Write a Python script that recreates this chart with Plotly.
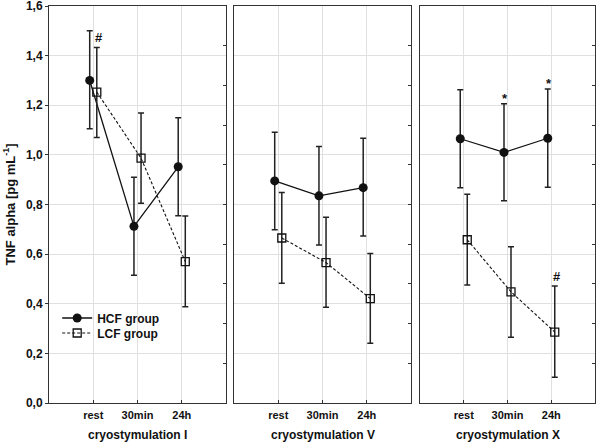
import plotly.graph_objects as go

categories = ["rest", "30min", "24h"]
panel_titles = ["cryostymulation I", "cryostymulation V", "cryostymulation X"]

hcf_mean = [[1.300, 0.712, 0.952], [0.895, 0.835, 0.868], [1.065, 1.010, 1.067]]
hcf_upper = [[1.500, 0.910, 1.150], [1.091, 1.034, 1.067], [1.262, 1.206, 1.265]]
hcf_lower = [[1.105, 0.515, 0.755], [0.698, 0.637, 0.673], [0.868, 0.815, 0.870]]

lcf_mean = [[1.253, 0.987, 0.570], [0.665, 0.566, 0.421], [0.658, 0.448, 0.286]]
lcf_upper = [[1.433, 1.169, 0.754], [0.848, 0.749, 0.603], [0.841, 0.630, 0.472]]
lcf_lower = [[1.070, 0.805, 0.388], [0.483, 0.386, 0.241], [0.476, 0.265, 0.104]]

y_ticks = [0, 0.2, 0.4, 0.6, 0.8, 1.0, 1.2, 1.4, 1.6]

# significance marks: (panel, group, category index, text)
sig_marks = [(0, "LCF", 0, "#"), (2, "HCF", 1, "*"), (2, "HCF", 2, "*"), (2, "LCF", 2, "#")]

FONT = "Liberation Sans, Arial, sans-serif"
W, H = 600, 444
ML, MR, MT, MB = 49, 5, 6, 41
pw = W - ML - MR
ph = H - MT - MB
panel_px = [(49, 226), (234, 411), (420, 595)]
domains = [((a - ML) / pw, (b - ML) / pw) for a, b in panel_px]

OFF_H, OFF_L = -0.08, 0.08

fig = go.Figure()
for p in range(3):
    xa = "x" if p == 0 else f"x{p+1}"
    ya = "y" if p == 0 else f"y{p+1}"
    xs_h = [i + 1 + OFF_H for i in range(len(categories))]
    xs_l = [i + 1 + OFF_L for i in range(len(categories))]
    fig.add_trace(go.Scatter(
        x=xs_h, y=hcf_mean[p], xaxis=xa, yaxis=ya,
        mode="lines+markers", name="HCF group", showlegend=(p == 0), legend="legend",
        line=dict(color="#111", width=1.3),
        marker=dict(symbol="circle", size=9, color="#111"),
        error_y=dict(type="data", symmetric=False,
                     array=[u - m for u, m in zip(hcf_upper[p], hcf_mean[p])],
                     arrayminus=[m - l for l, m in zip(hcf_lower[p], hcf_mean[p])],
                     color="#222", thickness=1.5, width=3),
    ))
    fig.add_trace(go.Scatter(
        x=xs_l, y=lcf_mean[p], xaxis=xa, yaxis=ya,
        mode="lines+markers", name="LCF group", showlegend=(p == 0), legend="legend2",
        line=dict(color="#111", width=1.1, dash="3px,2px"),
        marker=dict(symbol="square-open", size=8, color="#111", line=dict(width=1.3)),
        error_y=dict(type="data", symmetric=False,
                     array=[u - m for u, m in zip(lcf_upper[p], lcf_mean[p])],
                     arrayminus=[m - l for l, m in zip(lcf_lower[p], lcf_mean[p])],
                     color="#222", thickness=1.5, width=3),
    ))

legfont = dict(family=FONT, size=12, color="#111", weight="bold")
layout = dict(
    width=W, height=H,
    margin=dict(l=ML, r=MR, t=MT, b=MB, autoexpand=False),
    paper_bgcolor="white", plot_bgcolor="white",
    separators=",.",
    font=dict(family=FONT, color="#111"),
    showlegend=True,
    legend=dict(x=0.015, y=(403 - 318) / ph, xanchor="left", yanchor="middle",
                bgcolor="rgba(0,0,0,0)", borderwidth=0, font=legfont, itemwidth=30),
    legend2=dict(x=0.015, y=(403 - 333) / ph, xanchor="left", yanchor="middle",
                 bgcolor="rgba(0,0,0,0)", borderwidth=0, font=legfont, itemwidth=30),
)

for p in range(3):
    xk = "xaxis" if p == 0 else f"xaxis{p+1}"
    yk = "yaxis" if p == 0 else f"yaxis{p+1}"
    ya = "y" if p == 0 else f"y{p+1}"
    xa = "x" if p == 0 else f"x{p+1}"
    layout[xk] = dict(
        domain=list(domains[p]), anchor=ya, range=[0, 4], automargin=False,
        tickvals=[1, 2, 3], ticktext=categories,
        ticks="inside", ticklen=3, tickcolor="#333",
        showgrid=True, gridcolor="#e0e0e0", gridwidth=1, zeroline=False,
        showline=True, linecolor="#333", linewidth=1, mirror=True,
        tickfont=dict(family=FONT, size=11, color="#111", weight="bold"),
        ticklabelstandoff=2,
    )
    layout[yk] = dict(
        domain=[0, 1], anchor=xa, range=[0, 1.6], automargin=False,
        tickvals=y_ticks, tickformat=".1f", ticklabeloverflow="allow",
        showticklabels=(p == 0),
        ticks="outside" if p == 0 else "", ticklen=3, tickcolor="#333",
        showgrid=True, gridcolor="#e0e0e0", gridwidth=1, zeroline=False,
        showline=True, linecolor="#333", linewidth=1, mirror=True,
        tickfont=dict(family=FONT, size=12, color="#111", weight="bold"),
    )
    # right-side inner ticks (10 divisions)
    ok = f"yaxis{p+4}"
    layout[ok] = dict(
        overlaying=ya, anchor=xa, side="right", range=[0, 1.6], automargin=False,
        tickvals=[0.16 * k for k in range(1, 10)], showticklabels=False,
        ticks="inside", ticklen=3, tickcolor="#333", showgrid=False,
        zeroline=False, showline=False,
    )

fig.update_layout(**layout)

# dummy carriers for the overlay tick axes
for p in range(3):
    xa = "x" if p == 0 else f"x{p+1}"
    fig.add_trace(go.Scatter(x=[None], y=[None], xaxis=xa, yaxis=f"y{p+4}",
                             showlegend=False, hoverinfo="skip", mode="markers"))

# axis titles
for p in range(3):
    xa = "x" if p == 0 else f"x{p+1}"
    fig.add_annotation(x=0.5, xref=f"{xa} domain", y=0, yref="paper", yshift=-32,
                       yanchor="middle", showarrow=False, text=f"<b>{panel_titles[p]}</b>",
                       font=dict(family=FONT, size=12, color="#111"))
fig.add_annotation(x=0, xref="paper", xshift=-40, y=0.5, yref="paper", textangle=-90,
                   xanchor="center", yanchor="middle", showarrow=False,
                   text="<b>TNF alpha [pg mL<sup>-1</sup>]</b>",
                   font=dict(family=FONT, size=13, color="#111"))

for p, grp, ci, txt in sig_marks:
    xa = "x" if p == 0 else f"x{p+1}"
    ya = "y" if p == 0 else f"y{p+1}"
    if grp == "HCF":
        xv = ci + 1 + OFF_H + 0.02
        yv = hcf_upper[p][ci]
    else:
        xv = ci + 1 + OFF_L + 0.04
        yv = lcf_upper[p][ci]
    fig.add_annotation(x=xv, y=yv, xref=xa, yref=ya, text=f"<b>{txt}</b>",
                       showarrow=False, yanchor="bottom", yshift=(-4 if txt == "*" else 0),
                       font=dict(family=FONT, size=13, color="#111"))

fig.write_html("out.html", post_script="document.body.style.margin='0';",
               config={"displayModeBar": False})
